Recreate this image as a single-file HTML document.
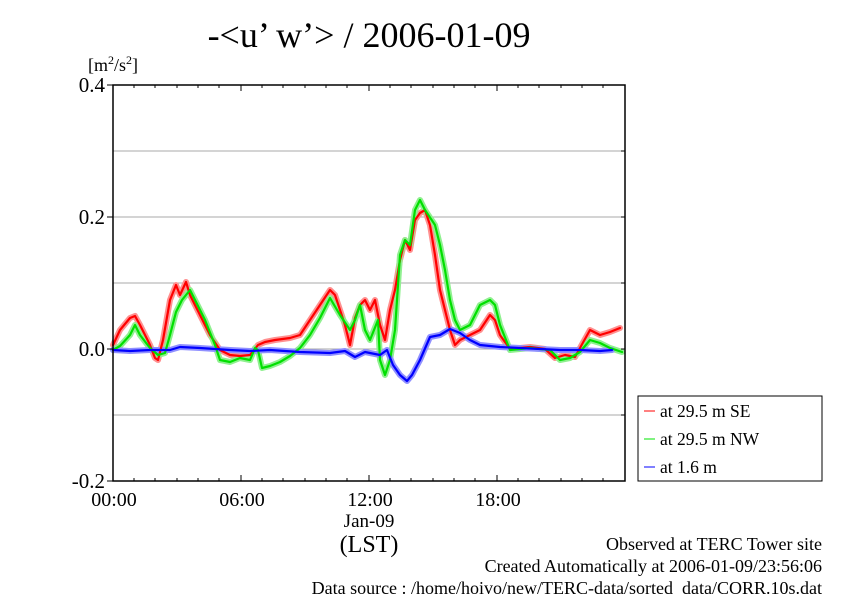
<!DOCTYPE html>
<html><head><meta charset="utf-8"><style>body{margin:0;background:#fff}</style></head>
<body>
<svg width="842" height="595" viewBox="0 0 842 595" xmlns="http://www.w3.org/2000/svg" font-family="Liberation Serif, serif">
<rect width="842" height="595" fill="#fff"/>
<text x="369" y="47" font-size="36" text-anchor="middle">-&lt;u’ w’&gt; / 2006-01-09</text>
<text x="88" y="71" font-size="18">[m<tspan font-size="12" dy="-7">2</tspan><tspan dy="7">/s</tspan><tspan font-size="12" dy="-7">2</tspan><tspan dy="7">]</tspan></text>
<g stroke="#aaa" stroke-width="1">
<line x1="113" y1="151" x2="625" y2="151"/><line x1="113" y1="217" x2="625" y2="217"/>
<line x1="113" y1="283" x2="625" y2="283"/><line x1="113" y1="349" x2="625" y2="349"/>
<line x1="113" y1="415" x2="625" y2="415"/>
</g>
<g fill="none" stroke-linejoin="round" stroke-linecap="round">
<polyline stroke="#ff9090" stroke-width="6" points="113,345 120,330 130,318 135,316 140,325 150,345 155,358 158,360 163,340 170,300 176,285 180,295 186,282 190,295 200,315 210,335 220,350 230,355 240,356 250,355 258,345 265,342 275,340 290,338 300,335 310,320 320,305 330,290 335,295 340,310 345,325 350,345 355,318 360,305 365,300 370,310 375,300 380,325 385,340 390,310 395,290 400,260 405,240 410,250 415,220 420,213 425,210 430,225 435,255 440,290 445,310 450,330 455,345 460,340 470,335 480,330 490,315 495,320 500,335 510,349 530,347 545,349 555,358 565,355 575,357 580,348 590,330 600,335 610,332 620,328"/>
<polyline stroke="#90f090" stroke-width="6" points="113,350 120,346 130,335 135,325 140,335 150,348 158,355 165,353 170,335 176,312 182,300 190,290 195,300 205,320 215,345 220,360 230,362 240,358 250,360 255,348 258,350 262,368 270,366 280,362 290,356 300,348 310,335 320,318 330,298 340,315 350,330 355,320 360,305 365,330 370,340 378,320 380,360 385,375 390,360 395,330 400,255 405,240 410,245 415,210 420,200 425,210 435,225 440,245 445,270 450,300 455,320 460,330 470,325 480,305 490,300 495,305 500,325 510,350 530,348 550,350 560,360 570,358 580,352 590,340 600,343 610,348 622,352"/>
<polyline stroke="#9090ff" stroke-width="6" points="113,350 130,351 150,350 170,350 180,347 200,348 230,350 250,351 270,350 300,352 330,353 345,351 355,357 365,352 380,355 387,350 393,365 400,375 407,381 412,375 420,360 430,337 440,335 450,329 460,333 470,340 480,345 500,347 520,348 540,349 560,350 580,350 600,351 612,350"/>
<polyline stroke="#ff0000" stroke-width="2.2" points="113,345 120,330 130,318 135,316 140,325 150,345 155,358 158,360 163,340 170,300 176,285 180,295 186,282 190,295 200,315 210,335 220,350 230,355 240,356 250,355 258,345 265,342 275,340 290,338 300,335 310,320 320,305 330,290 335,295 340,310 345,325 350,345 355,318 360,305 365,300 370,310 375,300 380,325 385,340 390,310 395,290 400,260 405,240 410,250 415,220 420,213 425,210 430,225 435,255 440,290 445,310 450,330 455,345 460,340 470,335 480,330 490,315 495,320 500,335 510,349 530,347 545,349 555,358 565,355 575,357 580,348 590,330 600,335 610,332 620,328"/>
<polyline stroke="#00e000" stroke-width="2.2" points="113,350 120,346 130,335 135,325 140,335 150,348 158,355 165,353 170,335 176,312 182,300 190,290 195,300 205,320 215,345 220,360 230,362 240,358 250,360 255,348 258,350 262,368 270,366 280,362 290,356 300,348 310,335 320,318 330,298 340,315 350,330 355,320 360,305 365,330 370,340 378,320 380,360 385,375 390,360 395,330 400,255 405,240 410,245 415,210 420,200 425,210 435,225 440,245 445,270 450,300 455,320 460,330 470,325 480,305 490,300 495,305 500,325 510,350 530,348 550,350 560,360 570,358 580,352 590,340 600,343 610,348 622,352"/>
<polyline stroke="#0000ff" stroke-width="2.2" points="113,350 130,351 150,350 170,350 180,347 200,348 230,350 250,351 270,350 300,352 330,353 345,351 355,357 365,352 380,355 387,350 393,365 400,375 407,381 412,375 420,360 430,337 440,335 450,329 460,333 470,340 480,345 500,347 520,348 540,349 560,350 580,350 600,351 612,350"/>
</g>
<rect x="113" y="85" width="512" height="396" fill="none" stroke="#000" stroke-width="1.5"/>
<g stroke="#000" stroke-width="1">
<path d="M134,481v-3M155,481v-3M177,481v-3M198,481v-3M219,481v-3M262,481v-3M283,481v-3M305,481v-3M326,481v-3M347,481v-3M390,481v-3M411,481v-3M433,481v-3M454,481v-3M475,481v-3M518,481v-3M539,481v-3M561,481v-3M582,481v-3M603,481v-3"/>
<path d="M134,85v3M155,85v3M177,85v3M198,85v3M219,85v3M262,85v3M283,85v3M305,85v3M326,85v3M347,85v3M390,85v3M411,85v3M433,85v3M454,85v3M475,85v3M518,85v3M539,85v3M561,85v3M582,85v3M603,85v3"/>
<path d="M241,481v-6M369,481v-6M497,481v-6M241,85v6M369,85v6M497,85v6"/>
<path d="M107,85h6M107,217h6M107,349h6M107,481h6M625,151h-4M625,217h-4M625,283h-4M625,349h-4M625,415h-4"/>
</g>
<g font-size="21" text-anchor="end">
<text x="105" y="92">0.4</text><text x="105" y="224">0.2</text><text x="105" y="356">0.0</text><text x="105" y="488">-0.2</text>
</g>
<g font-size="20" text-anchor="middle">
<text x="114" y="506">00:00</text><text x="242" y="506">06:00</text><text x="370" y="506">12:00</text><text x="498" y="506">18:00</text>
<text x="369" y="527" font-size="19">Jan-09</text>
<text x="369" y="552" font-size="24">(LST)</text>
</g>
<rect x="638" y="396" width="184" height="85" fill="#fff" stroke="#000" stroke-width="1"/>
<g stroke-width="1.5"><line x1="644" y1="411" x2="655" y2="411" stroke="#f55"/><line x1="644" y1="439" x2="655" y2="439" stroke="#5e5"/><line x1="644" y1="467" x2="655" y2="467" stroke="#55f"/></g>
<g font-size="17.5"><text x="660" y="417">at 29.5 m SE</text><text x="660" y="445">at 29.5 m NW</text><text x="660" y="473">at 1.6 m</text></g>
<g font-size="18" text-anchor="end">
<text x="822" y="550">Observed at TERC Tower site</text>
<text x="822" y="572">Created Automatically at 2006-01-09/23:56:06</text>
<text x="822" y="594">Data source : /home/hoivo/new/TERC-data/sorted_data/CORR.10s.dat</text>
</g>
</svg>
</body></html>
